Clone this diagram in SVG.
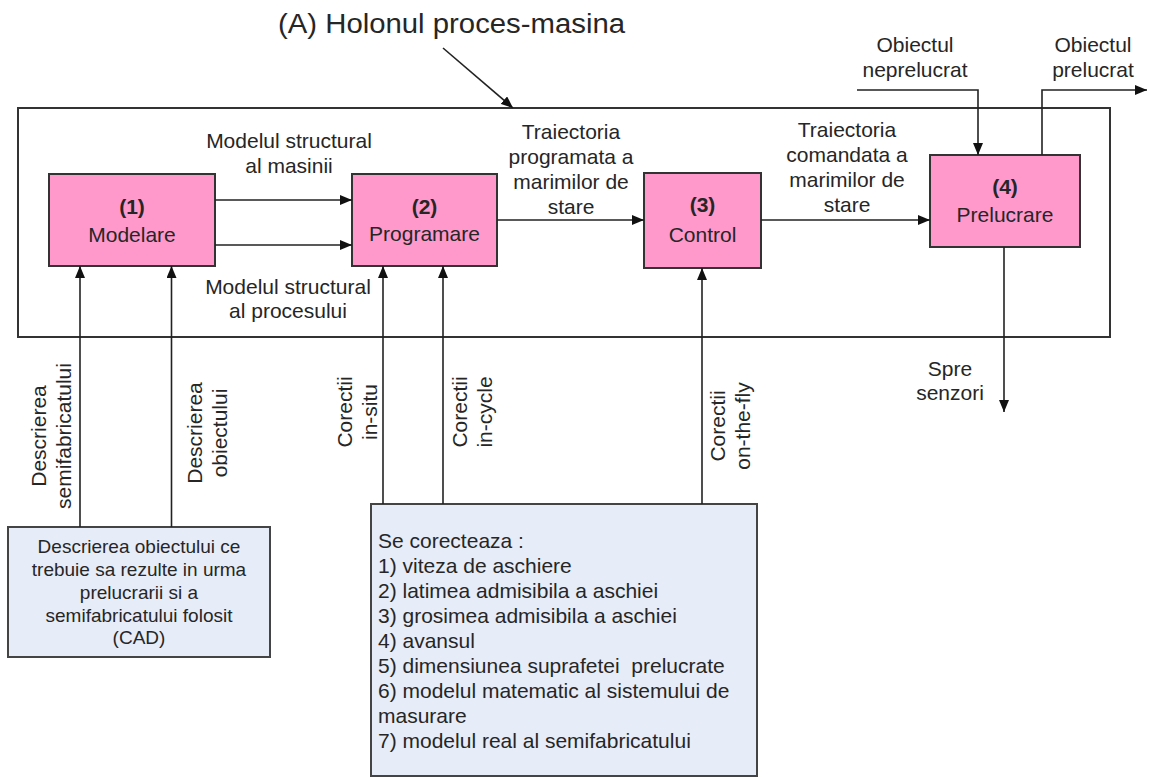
<svg xmlns="http://www.w3.org/2000/svg" width="1150" height="777" viewBox="0 0 1150 777">
<style>
text{font-family:"Liberation Sans",Arial,sans-serif;fill:#262626;font-size:21px}
.c{text-anchor:middle}
.b{font-weight:bold}
.pk{fill:#ff99cc;stroke:#333;stroke-width:2}
.bl{fill:#e6ecf8;stroke:#444;stroke-width:2}
.ln{fill:none;stroke:#222;stroke-width:1.6}
.s{font-size:19px}
</style>
<defs>
<marker id="ah" viewBox="0 0 12 10" refX="12" refY="5" markerWidth="12" markerHeight="10" markerUnits="userSpaceOnUse" orient="auto">
<path d="M0,0 L12,5 L0,10 z" fill="#111"/>
</marker>
</defs>
<rect width="1150" height="777" fill="#fff"/>
<text x="278" y="33" style="font-size:27px" textLength="347" lengthAdjust="spacingAndGlyphs">(A) Holonul proces-masina</text>
<g id="holon"><rect x="18" y="108" width="1092" height="229" fill="none" stroke="#333" stroke-width="2"/></g>
<g id="n1"><rect class="pk" x="49" y="174" width="166" height="92"/><text class="c b" x="132" y="214">(1)</text><text class="c" x="132" y="242">Modelare</text></g>
<g id="n2"><rect class="pk" x="352" y="174" width="145" height="92"/><text class="c b" x="424.5" y="214">(2)</text><text class="c" x="424.5" y="241">Programare</text></g>
<g id="n3"><rect class="pk" x="644" y="173" width="117" height="95"/><text class="c b" x="702.5" y="212">(3)</text><text class="c" x="702.5" y="242">Control</text></g>
<g id="n4"><rect class="pk" x="930" y="155" width="150" height="92"/><text class="c b" x="1005" y="194">(4)</text><text class="c" x="1005" y="222">Prelucrare</text></g>
<g id="cad"><rect class="bl" x="8" y="527" width="262" height="130"/>
<text class="c s" x="139"><tspan x="139" y="553">Descrierea obiectului ce</tspan><tspan x="139" y="576">trebuie sa rezulte in urma</tspan><tspan x="139" y="599">prelucrarii si a</tspan><tspan x="139" y="622">semifabricatului folosit</tspan><tspan x="139" y="644">(CAD)</tspan></text></g>
<g id="corr"><rect class="bl" x="371" y="504" width="386" height="272"/>
<text x="378"><tspan x="378" y="548">Se corecteaza :</tspan><tspan x="378" y="573">1) viteza de aschiere</tspan><tspan x="378" y="598">2) latimea admisibila a aschiei</tspan><tspan x="378" y="623">3) grosimea admisibila a aschiei</tspan><tspan x="378" y="648">4) avansul</tspan><tspan x="378" y="673">5) dimensiunea suprafetei&#160; prelucrate</tspan><tspan x="378" y="698">6) modelul matematic al sistemului de</tspan><tspan x="378" y="723">masurare</tspan><tspan x="378" y="748">7) modelul real al semifabricatului</tspan></text></g>
<g id="connectors">
<path class="ln" d="M443,48 L513,108" marker-end="url(#ah)"/>
<path class="ln" d="M215,200 H352" marker-end="url(#ah)"/>
<path class="ln" d="M215,245 H352" marker-end="url(#ah)"/>
<path class="ln" d="M497,220 H644" marker-end="url(#ah)"/>
<path class="ln" d="M761,220 H930" marker-end="url(#ah)"/>
<path class="ln" d="M80,527 V266" marker-end="url(#ah)"/>
<path class="ln" d="M171.5,527 V266" marker-end="url(#ah)"/>
<path class="ln" d="M383,504 V266" marker-end="url(#ah)"/>
<path class="ln" d="M443,504 V266" marker-end="url(#ah)"/>
<path class="ln" d="M702,504 V268" marker-end="url(#ah)"/>
<path class="ln" d="M857,90 H978 V155" marker-end="url(#ah)"/>
<path class="ln" d="M1042,155 V90 H1147" marker-end="url(#ah)"/>
<path class="ln" d="M1004,247 V412" marker-end="url(#ah)"/>
</g>
<g id="labels">
<text class="c"><tspan x="289" y="148">Modelul structural</tspan><tspan x="289" y="173">al masinii</tspan></text>
<text class="c"><tspan x="288" y="294">Modelul structural</tspan><tspan x="288" y="318">al procesului</tspan></text>
<text class="c"><tspan x="571" y="139">Traiectoria</tspan><tspan x="571" y="164">programata a</tspan><tspan x="571" y="189">marimilor de</tspan><tspan x="571" y="214">stare</tspan></text>
<text class="c"><tspan x="847" y="137">Traiectoria</tspan><tspan x="847" y="162">comandata a</tspan><tspan x="847" y="187">marimilor de</tspan><tspan x="847" y="212">stare</tspan></text>
<text class="c"><tspan x="915" y="52">Obiectul</tspan><tspan x="915" y="77">neprelucrat</tspan></text>
<text class="c"><tspan x="1093" y="52">Obiectul</tspan><tspan x="1093" y="77">prelucrat</tspan></text>
<text class="c"><tspan x="950" y="376">Spre</tspan><tspan x="950" y="400">senzori</tspan></text>
<text class="c" transform="translate(46,436) rotate(-90)"><tspan x="0" y="0">Descrierea</tspan><tspan x="0" y="25">semifabricatului</tspan></text>
<text class="c" transform="translate(202,433) rotate(-90)"><tspan x="0" y="0">Descrierea</tspan><tspan x="0" y="25">obiectului</tspan></text>
<text class="c" transform="translate(352,412) rotate(-90)"><tspan x="0" y="0">Corectii</tspan><tspan x="0" y="25">in-situ</tspan></text>
<text class="c" transform="translate(467,412) rotate(-90)"><tspan x="0" y="0">Corectii</tspan><tspan x="0" y="25">in-cycle</tspan></text>
<text class="c" transform="translate(725,426) rotate(-90)"><tspan x="0" y="0">Corectii</tspan><tspan x="0" y="25">on-the-fly</tspan></text>
</g>
</svg>
